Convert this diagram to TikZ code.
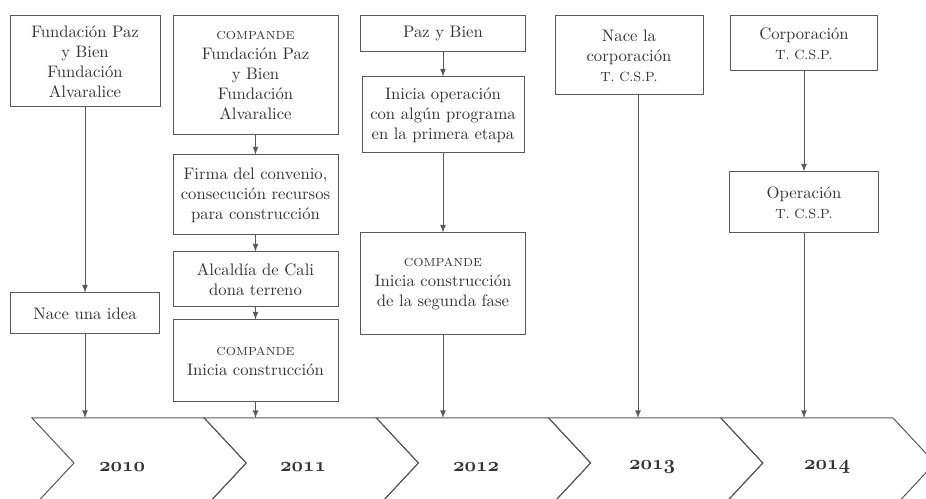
\documentclass[tikz,border=0pt]{standalone}
\usepackage{fontspec}
\usetikzlibrary{arrows}

\begin{document}
\begin{tikzpicture} [x=0.6pt, y=-0.6pt, align=center, >=latex,
  evento/.style={rectangle, draw=black!65, line width=0.6pt, text=black!80, inner sep=2pt},
  linea/.style={->, draw=black!65, line width=0.6pt},
  anio/.style={font=\large\usefont{OML}{cmm}{b}{it}, text=black!80}]
\useasboundingbox (0, 0) rectangle (926, 499);
\clip (0, 0) rectangle (926, 499);

% linea de tiempo
\foreach \i in {0,...,4}
  \draw[black!65, line width=0.6pt] ({32+172.2*\i}, 418) -- ({204.2+172.2*\i}, 418)
    -- ({246.2+172.2*\i}, 463) -- ({204.2+172.2*\i}, 508) -- ({32+172.2*\i}, 508)
    -- ({74+172.2*\i}, 463) -- cycle;

\path (122, 467) node[anio] (a2010) {2010}
      (303, 467) node[anio] (a2011) {2011}
      (476, 467) node[anio] (a2012) {2012}
      (652, 467) node[anio] (a2013) {2013}
      (827, 467) node[anio] (a2014) {2014};

\coordinate (t2010) at (85, 418);
\coordinate (t2011) at (255.5, 418);
\coordinate (t2012) at (443, 418);
\coordinate (t2013) at (638, 418);
\coordinate (t2014) at (804, 418);

% 2010
\path (85, 61.5) node[evento, minimum width=90pt, minimum height=54.6pt] (f2010) {Fundación Paz\\ y Bien\\ Fundación\\ Alvaralice}
      (85, 313.5) node[evento, minimum width=89.4pt, minimum height=24.6pt] (idea) {Nace una idea};

% 2011
\path (255.5, 75.5) node[evento, minimum width=99pt, minimum height=71.4pt] (c2011) {{\scriptsize COMPANDE}\\ Fundación Paz\\ y Bien\\ Fundación\\ Alvaralice}
      (255.5, 195) node[evento, minimum width=99pt, minimum height=48pt] (firma) {Firma del convenio,\\ consecución recursos\\ para construcción}
      (255.5, 279.5) node[evento, minimum width=99pt, minimum height=33pt] (cali) {Alcaldía de Cali\\ dona terreno}
      (255.5, 361) node[evento, minimum width=99pt, minimum height=49.2pt] (obra1) {{\scriptsize COMPANDE}\\ Inicia construcción};

% 2012
\path (443, 34) node[evento, minimum width=99pt, minimum height=21.6pt] (paz) {Paz y Bien}
      (443, 115) node[evento, minimum width=97.2pt, minimum height=45.6pt] (oper) {Inicia operación\\ con algún programa\\ en la primera etapa}
      (443, 284) node[evento, minimum width=99pt, minimum height=61.2pt] (obra2) {{\scriptsize COMPANDE}\\ Inicia construcción\\ de la segunda fase};

% 2013
\path (629, 55.5) node[evento, minimum width=88.8pt, minimum height=47.4pt] (corp) {Nace la\\ corporación\\ {\footnotesize T. C.S.P.}};

% 2014
\path (804, 43.5) node[evento, minimum width=88.2pt, minimum height=33pt] (tcsp) {Corporación\\ {\footnotesize T. C.S.P.}}
      (804, 202.5) node[evento, minimum width=89.4pt, minimum height=36.6pt] (optcsp) {Operación\\ {\footnotesize T. C.S.P.}};

\draw[linea] (f2010) -- (idea);
\draw[linea] (idea) -- (t2010);
\draw[linea] (c2011) -- (firma);
\draw[linea] (firma) -- (cali);
\draw[linea] (cali) -- (obra1);
\draw[linea] (obra1) -- (t2011);
\draw[linea] (paz) -- (oper);
\draw[linea] (oper) -- (obra2);
\draw[linea] (obra2) -- (t2012);
\draw[linea] (t2013 |- corp.south) -- (t2013);
\draw[linea] (tcsp) -- (optcsp);
\draw[linea] (optcsp) -- (t2014);

\end{tikzpicture}
\end{document}
